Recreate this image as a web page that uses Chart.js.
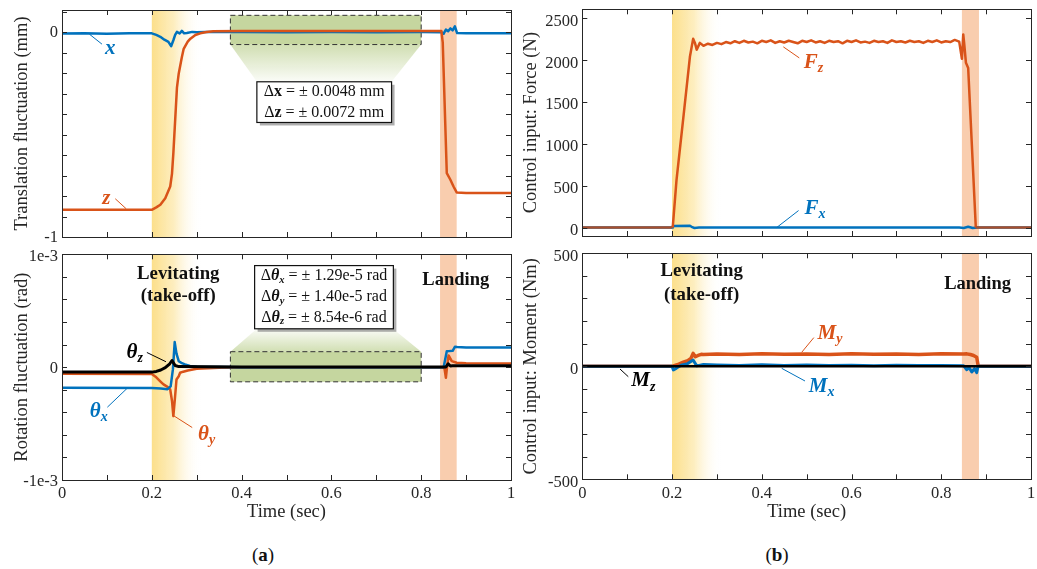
<!DOCTYPE html>
<html><head><meta charset="utf-8">
<script src="https://cdn.jsdelivr.net/npm/chart.js@4.4.1/dist/chart.umd.min.js"></script>
<style>
html,body{margin:0;padding:0;background:#fff;}
#wrap{position:relative;width:1037px;height:569px;overflow:hidden;font-family:"Liberation Serif",serif;background:#fff;}
canvas{position:absolute;}
.cap{position:absolute;font-size:19px;color:#111;transform:translate(-50%,-50%);white-space:nowrap;font-family:"Liberation Serif",serif;}
</style></head><body>
<div id="wrap">
<canvas id="cA1" width="520" height="245" style="left:0;top:0"></canvas>
<canvas id="cA2" width="520" height="290" style="left:0;top:245px"></canvas>
<canvas id="cB1" width="517" height="245" style="left:520px;top:0"></canvas>
<canvas id="cB2" width="517" height="290" style="left:520px;top:245px"></canvas>
<div class="cap" style="left:263px;top:555px">(<b>a</b>)</div>
<div class="cap" style="left:777px;top:555px">(<b>b</b>)</div>
</div>
<script>
// ---------------- DATA ----------------
// (a) top: translation fluctuation (mm)
const tTransX = [0,0.05,0.1,0.15,0.2,0.21,0.219,0.228,0.237,0.243,0.248,0.252,0.256,0.262,0.267,0.272,0.278,0.29,0.3,0.32,0.35,0.4,0.5,0.6,0.7,0.8,0.845,0.85,0.855,0.86,0.865,0.87,0.875,0.88,0.9,1.0];
const transX  = [-0.005,-0.004,-0.006,-0.004,-0.004,-0.012,-0.021,-0.035,-0.046,-0.067,-0.038,-0.012,0.003,-0.005,0.008,-0.004,-0.002,0.003,0.001,0.002,0.003,0.002,0.001,0.002,0.001,0.002,0.001,-0.006,0.014,0.006,0.02,0.01,0.03,-0.003,-0.004,-0.004];
const tTransZ = [0,0.1,0.2,0.21,0.219,0.23,0.241,0.245,0.248,0.252,0.256,0.26,0.267,0.271,0.28,0.286,0.297,0.308,0.322,0.337,0.4,0.6,0.8,0.845,0.848,0.857,0.865,0.872,0.879,0.9,1.0];
const transZ  = [-0.867,-0.867,-0.867,-0.855,-0.842,-0.81,-0.753,-0.69,-0.59,-0.43,-0.27,-0.2,-0.12,-0.08,-0.045,-0.03,-0.012,-0.004,0.002,0.006,0.007,0.007,0.007,0.007,-0.05,-0.688,-0.72,-0.753,-0.782,-0.785,-0.785];
// (a) bottom: rotation fluctuation (rad)
const tRotX = [0,0.2,0.22,0.235,0.242,0.247,0.251,0.255,0.26,0.267,0.274,0.285,0.3,0.4,0.6,0.8,0.85,0.857,0.862,0.87,0.875,0.88,0.9,1.0];
const rotX  = [-0.000183,-0.000185,-0.00019,-0.000195,-0.00017,-0.00002,0.000222,0.00012,0.000053,0.000035,0.000024,0.00001,0.000003,0,0,0,0,0.00014,0.000142,0.000145,0.00018,0.000178,0.000175,0.000175];
const tRotY = [0,0.2,0.21,0.22,0.226,0.235,0.241,0.245,0.248,0.251,0.255,0.26,0.263,0.27,0.28,0.3,0.35,0.4,0.6,0.8,0.848,0.852,0.855,0.858,0.861,0.868,0.879,0.9,1.0];
const rotY  = [-0.000059,-0.00006,-0.00009,-0.00013,-0.000153,-0.000175,-0.000198,-0.0003,-0.000434,-0.0003,-0.000109,-0.00008,-0.00005,-0.00004,-0.00003,-0.000015,-0.000005,0,0,0,0,-0.000014,-0.000094,0.00002,0.000104,0.000053,0.000039,0.000035,0.000033];
const tRotZ = [0,0.2,0.21,0.22,0.23,0.24,0.245,0.252,0.26,0.4,0.8,0.855,0.86,0.865,0.87,0.9,1.0];
const rotZ  = [-0.000044,-0.000044,-0.000038,-0.000025,-0.000005,0.00003,0.000059,0.000015,0.000005,0.000002,0.000002,0.000002,0.00003,0.00001,0.000012,0.000012,0.000012];
// (b) top: control force (N)
const tForceZ = [0,0.1,0.2,0.2015,0.21,0.225,0.24,0.247,0.251,0.255,0.262,0.27,0.28,0.29,0.30,0.31,0.32,0.33,0.34,0.35,0.36,0.37,0.38,0.39,0.40,0.41,0.42,0.43,0.44,0.45,0.46,0.47,0.48,0.49,0.50,0.51,0.52,0.53,0.54,0.55,0.56,0.57,0.58,0.59,0.60,0.61,0.62,0.63,0.64,0.65,0.66,0.67,0.68,0.69,0.70,0.71,0.72,0.73,0.74,0.75,0.76,0.77,0.78,0.79,0.80,0.81,0.82,0.83,0.84,0.846,0.849,0.851,0.855,0.86,0.877,0.88,1.0];
const forceZ  = [0,0,0,0,569,1300,2041,2248,2200,2120,2200,2165,2190,2175,2200,2185,2210,2195,2220,2200,2225,2205,2215,2195,2225,2210,2230,2200,2220,2205,2225,2210,2195,2225,2210,2230,2205,2220,2200,2225,2210,2220,2195,2225,2210,2230,2205,2215,2200,2225,2210,2220,2200,2230,2210,2220,2205,2225,2210,2220,2200,2225,2210,2230,2205,2220,2210,2235,2215,2010,2300,2200,1962,1900,0,0,0];
const tForceX = [0,0.2,0.202,0.24,0.245,0.25,0.26,0.5,0.84,0.85,0.86,0.87,0.88,1.0];
const forceX  = [0,0,20,22,5,-5,0,0,0,-5,10,-5,0,0];
// (b) bottom: control moment (Nm)
const tMomY = [0,0.2,0.203,0.215,0.225,0.235,0.242,0.247,0.252,0.258,0.265,0.27,0.3,0.35,0.4,0.45,0.5,0.55,0.6,0.65,0.7,0.75,0.8,0.85,0.857,0.865,0.872,0.879,0.882,0.885,1.0];
const momY  = [0,0,2,10,18,25,35,57,42,48,53,52,54,52,55,53,54,52,55,53,54,52,55,54,55,52,48,40,5,0,0];
const tMomX = [0,0.2,0.203,0.21,0.22,0.235,0.247,0.255,0.27,0.3,0.35,0.4,0.45,0.5,0.55,0.6,0.65,0.7,0.75,0.8,0.85,0.857,0.862,0.868,0.874,0.879,0.882,1.0];
const momX  = [0,0,-16,-8,5,12,28,2,8,6,3,7,4,6,3,5,2,5,3,4,2,-15,-5,-25,-10,-28,0,0];
const tMomZ = [0,0.25,0.5,0.75,1.0];
const momZ  = [0,0,0,0,0];
// ticks and tick labels
const timeTicks = [0,0.1,0.2,0.3,0.4,0.5,0.6,0.7,0.8,0.9,1];
const timeTickVals = [0,0.2,0.4,0.6,0.8,1];
const timeTickText = ['0','0.2','0.4','0.6','0.8','1'];
const transTicks = [-1,-0.9,-0.8,-0.7,-0.6,-0.5,-0.4,-0.3,-0.2,-0.1,0,0.1];
const transTickVals = [0,-1];           const transTickText = ['0','-1'];
const rotTicks = [-0.001,-0.0008,-0.0006,-0.0004,-0.0002,0,0.0002,0.0004,0.0006,0.0008,0.001];
const rotTickVals = [0.001,0,-0.001];   const rotTickText = ['1e-3','0','-1e-3'];
const forceTicks = [0,500,1000,1500,2000,2500];
const forceTickVals = [0,500,1000,1500,2000,2500]; const forceTickText = ['0','500','1000','1500','2000','2500'];
const momTicks = [-500,-400,-300,-200,-100,0,100,200,300,400,500];
const momTickVals = [500,0,-500];       const momTickText = ['500','0','-500'];

// ---------------- STYLE ----------------
const BLUE='#0072BD', ORANGE='#D95319', BLACK='#000000', AXIS='#262626', BROWN='#A8502E';
const SERIF='"Liberation Serif","Times New Roman",serif';
const TICK_FS=16.5, TITLE_FS=18.5;
const F=(s,w)=>(w?w+' ':'')+s+'px '+SERIF;
const pts=(t,v)=>t.map((x,i)=>({x:x,y:v[i]}));
const lineDs=(t,v,color,w,extra)=>Object.assign({data:pts(t,v),borderColor:color,borderWidth:w,pointRadius:0,tension:0,fill:false,borderJoinStyle:'round'},extra||{});

function labeler(vals,texts,range){return function(v){for(let i=0;i<vals.length;i++){if(Math.abs(vals[i]-v)<range*1e-6)return texts[i];}return '';};}

function drawRich(ctx,x,y,parts,align){
  let w=0;parts.forEach(p=>{ctx.font=p.font;p.w=ctx.measureText(p.t).width;w+=p.w;});
  let cx=align==='center'?x-w/2:(align==='right'?x-w:x);
  ctx.textBaseline='middle';ctx.textAlign='left';
  parts.forEach(p=>{ctx.font=p.font;ctx.fillStyle=p.color||'#111';ctx.fillText(p.t,cx,y+(p.dy||0));cx+=p.w;});
}

function makeDeco(d){
  return {id:'deco',
    beforeDatasetsDraw(chart){
      const ctx=chart.ctx,A=chart.chartArea,xs=chart.scales.x,ys=chart.scales.y;
      ctx.save();ctx.beginPath();ctx.rect(A.left,A.top,A.right-A.left,A.bottom-A.top);ctx.clip();
      const g0=xs.getPixelForValue(d.lev[0]),g1=xs.getPixelForValue(d.lev[1]);
      const gr=ctx.createLinearGradient(g0,0,g1,0);
      gr.addColorStop(0,'rgba(252,223,138,1)');gr.addColorStop(0.45,'rgba(253,236,185,0.9)');gr.addColorStop(1,'rgba(255,255,255,0)');
      ctx.fillStyle=gr;ctx.fillRect(g0,A.top,g1-g0,A.bottom-A.top);
      const l0=xs.getPixelForValue(d.land[0]),l1=xs.getPixelForValue(d.land[1]);
      ctx.fillStyle='#F9CDAE';ctx.fillRect(l0,A.top,l1-l0,A.bottom-A.top);
      if(d.zoomBox){
        const z=d.zoomBox;
        const bx0=xs.getPixelForValue(z.x0),bx1=xs.getPixelForValue(z.x1),by0=ys.getPixelForValue(z.y0),by1=ys.getPixelForValue(z.y1);
        const tx0=xs.getPixelForValue(z.tx0),tx1=xs.getPixelForValue(z.tx1),ty=ys.getPixelForValue(z.ty);
        const edgeY=z.up?Math.min(by0,by1):Math.max(by0,by1);
        const tg=ctx.createLinearGradient(0,edgeY,0,ty);
        tg.addColorStop(0,'rgba(197,214,159,0.8)');tg.addColorStop(1,'rgba(197,214,159,0.08)');
        ctx.fillStyle=tg;ctx.beginPath();ctx.moveTo(bx0,edgeY);ctx.lineTo(bx1,edgeY);ctx.lineTo(tx1,ty);ctx.lineTo(tx0,ty);ctx.closePath();ctx.fill();
        ctx.fillStyle='#C5D69F';ctx.fillRect(bx0,Math.min(by0,by1),bx1-bx0,Math.abs(by1-by0));
        ctx.setLineDash([5,3]);ctx.strokeStyle='#333';ctx.lineWidth=1;
        ctx.strokeRect(bx0,Math.min(by0,by1),bx1-bx0,Math.abs(by1-by0));ctx.setLineDash([]);
      }
      ctx.restore();
    },
    afterDatasetsDraw(chart){
      const ctx=chart.ctx,A=chart.chartArea,xs=chart.scales.x,ys=chart.scales.y;
      ctx.save();
      ctx.strokeStyle=AXIS;ctx.lineWidth=1;
      ctx.beginPath();
      xs.ticks.forEach(t=>{const p=Math.round(xs.getPixelForValue(t.value))+0.5;ctx.moveTo(p,A.bottom);ctx.lineTo(p,A.bottom-5);ctx.moveTo(p,A.top);ctx.lineTo(p,A.top+5);});
      ys.ticks.forEach(t=>{const p=Math.round(ys.getPixelForValue(t.value))+0.5;ctx.moveTo(A.left,p);ctx.lineTo(A.left+5,p);ctx.moveTo(A.right,p);ctx.lineTo(A.right-5,p);});
      ctx.stroke();
      ctx.strokeRect(Math.round(A.left)+0.5,Math.round(A.top)+0.5,Math.round(A.right-A.left),Math.round(A.bottom-A.top));
      if(d.box){
        const b=d.box;
        const x0=xs.getPixelForValue(b.x0),x1=xs.getPixelForValue(b.x1),y0=ys.getPixelForValue(b.y0),y1=ys.getPixelForValue(b.y1);
        const top=Math.min(y0,y1),h=Math.abs(y1-y0);
        ctx.fillStyle='rgba(120,120,120,0.6)';ctx.fillRect(x0+3,top+3,x1-x0,h);
        ctx.fillStyle='#fff';ctx.fillRect(x0,top,x1-x0,h);
        ctx.strokeStyle='#111';ctx.lineWidth=1.2;ctx.strokeRect(x0,top,x1-x0,h);
        b.lines.forEach(L=>drawRich(ctx,(x0+x1)/2,ys.getPixelForValue(L.y),L.parts,'center'));
      }
      (d.leaders||[]).forEach(L=>{ctx.strokeStyle=L.color;ctx.lineWidth=1;ctx.beginPath();ctx.moveTo(xs.getPixelForValue(L.x0),ys.getPixelForValue(L.y0));ctx.lineTo(xs.getPixelForValue(L.x1),ys.getPixelForValue(L.y1));ctx.stroke();});
      (d.texts||[]).forEach(T=>drawRich(ctx,xs.getPixelForValue(T.x),ys.getPixelForValue(T.y),T.parts,T.align||'center'));
      ctx.restore();
    }
  };
}

function makeChart(id,o){
  const showX=!!o.xTitle;
  return new Chart(document.getElementById(id),{
    type:'line',
    data:{datasets:o.datasets},
    options:{
      responsive:false,animation:false,devicePixelRatio:1,
      layout:{padding:{top:o.padTop,right:o.padRight,left:0,bottom:0}},
      plugins:{legend:{display:false},tooltip:{enabled:false}},
      scales:{
        x:{type:'linear',min:0,max:1,grid:{display:false,drawTicks:false},border:{display:false},
           ticks:{display:showX,autoSkip:false,maxRotation:0,padding:4,color:AXIS,font:{family:SERIF,size:TICK_FS},
                  callback:labeler(timeTickVals,timeTickText,1)},
           title:{display:showX,text:o.xTitle||'',color:AXIS,font:{family:SERIF,size:TITLE_FS},padding:{top:0,bottom:12}},
           afterBuildTicks(s){s.ticks=timeTicks.map(v=>({value:v}));},
           afterFit(s){s.height=o.xH;s.paddingLeft=0;s.paddingRight=0;}},
        y:{type:'linear',min:o.yMin,max:o.yMax,grid:{display:false,drawTicks:false},border:{display:false},
           ticks:{autoSkip:false,padding:4,labelOffset:o.yLabelOffset,color:AXIS,font:{family:SERIF,size:TICK_FS},
                  callback:labeler(o.yTickVals,o.yTickText,o.yMax-o.yMin)},
           title:{display:true,text:o.yTitle,color:AXIS,font:{family:SERIF,size:TITLE_FS},padding:{top:o.yTitlePad,bottom:0}},
           afterBuildTicks(s){s.ticks=o.yTicks.map(v=>({value:v}));},
           afterFit(s){s.width=o.yW;s.paddingTop=0;s.paddingBottom=0;}}
      }
    },
    plugins:[makeDeco(o.deco)]
  });
}

const BI=s=>F(s,'italic bold'), B=s=>F(s,'bold'), N=s=>F(s,'');

// (a) top
makeChart('cA1',{
  datasets:[lineDs(tTransZ,transZ,ORANGE,2.5),lineDs(tTransX,transX,BLUE,2.5)],
  padTop:10,padRight:9,xH:8,yW:62,yMin:-1,yMax:0.11,yTicks:transTicks,yTickVals:transTickVals,yTickText:transTickText,yLabelOffset:0.5,
  yTitle:'Translation fluctuation (mm)',yTitlePad:10.9,
  deco:{lev:[0.2,0.31],land:[0.842,0.879],
    zoomBox:{x0:0.375,x1:0.8,y0:0.084,y1:-0.059,tx0:0.434,tx1:0.734,ty:-0.241,up:false},
    box:{x0:0.434,x1:0.734,y0:-0.241,y1:-0.44,lines:[
      {y:-0.29,parts:[{t:'Δ',font:N(16)},{t:'x',font:B(16)},{t:' = ± 0.0048 mm',font:N(16)}]},
      {y:-0.395,parts:[{t:'Δ',font:N(16)},{t:'z',font:B(16)},{t:' = ± 0.0072 mm',font:N(16)}]}]},
    leaders:[{x0:0.061,y0:-0.008,x1:0.089,y1:-0.057,color:BLUE},{x0:0.1186,y0:-0.813,x1:0.143,y1:-0.862,color:ORANGE}],
    texts:[{x:0.1075,y:-0.078,parts:[{t:'x',font:BI(21),color:BLUE}]},
           {x:0.0986,y:-0.813,parts:[{t:'z',font:BI(21),color:ORANGE}]}]}
});

// (a) bottom
makeChart('cA2',{
  datasets:[lineDs(tRotZ,rotZ,BLACK,3),lineDs(tRotX,rotX,BLUE,2.5),lineDs(tRotY,rotY,ORANGE,2.5)],
  padTop:9.3,padRight:9,xH:55,xTitle:'Time (sec)',yW:62,yMin:-0.001,yMax:0.001,yTicks:rotTicks,yTickVals:rotTickVals,yTickText:rotTickText,yLabelOffset:2,
  yTitle:'Rotation fluctuation (rad)',yTitlePad:10.9,
  deco:{lev:[0.2,0.31],land:[0.842,0.879],
    zoomBox:{x0:0.375,x1:0.8,y0:0.000137,y1:-0.00013,tx0:0.434,tx1:0.737,ty:0.00034,up:true},
    box:{x0:0.429,x1:0.738,y0:0.00090,y1:0.00034,lines:[
      {y:0.000807,parts:[{t:'Δ',font:N(16)},{t:'θ',font:BI(16)},{t:'x',font:BI(10.5),dy:4},{t:' = ± 1.29e-5 rad',font:N(16)}]},
      {y:0.000621,parts:[{t:'Δ',font:N(16)},{t:'θ',font:BI(16)},{t:'y',font:BI(10.5),dy:4},{t:' = ± 1.40e-5 rad',font:N(16)}]},
      {y:0.000438,parts:[{t:'Δ',font:N(16)},{t:'θ',font:BI(16)},{t:'z',font:BI(10.5),dy:4},{t:' = ± 8.54e-6 rad',font:N(16)}]}]},
    leaders:[{x0:0.189,y0:0.00013,x1:0.2315,y1:0.000048,color:BLACK},
             {x0:0.101,y0:-0.000355,x1:0.1447,y1:-0.000189,color:BLUE},
             {x0:0.29,y0:-0.000535,x1:0.247,y1:-0.000426,color:ORANGE}],
    texts:[{x:0.162,y:0.000128,parts:[{t:'θ',font:BI(21),color:BLACK},{t:'z',font:BI(14),color:BLACK,dy:6}]},
           {x:0.082,y:-0.00039,parts:[{t:'θ',font:BI(21),color:BLUE},{t:'x',font:BI(14),color:BLUE,dy:6}]},
           {x:0.322,y:-0.000597,parts:[{t:'θ',font:BI(21),color:ORANGE},{t:'y',font:BI(14),color:ORANGE,dy:6}]},
           {x:0.259,y:0.000822,parts:[{t:'Levitating',font:B(18.8)}]},
           {x:0.259,y:0.000627,parts:[{t:'(take-off)',font:B(18.8)}]},
           {x:0.877,y:0.000769,parts:[{t:'Landing',font:B(18.5)}]}]}
});

// (b) top
makeChart('cB1',{
  datasets:[lineDs(tForceZ,forceZ,ORANGE,2.5,{segment:{borderColor:c=>(c.p0.parsed.y===0&&c.p1.parsed.y===0)?BROWN:undefined}}),lineDs(tForceX,forceX,BLUE,2.5)],
  padTop:9.3,padRight:6,xH:9,yW:62.3,yMin:-100,yMax:2600,yTicks:forceTicks,yTickVals:forceTickVals,yTickText:forceTickText,yLabelOffset:3.5,
  yTitle:'Control input: Force (N)',yTitlePad:0,
  deco:{lev:[0.2,0.31],land:[0.846,0.884],
    leaders:[{x0:0.4836,y0:2021,x1:0.448,y1:2153,color:ORANGE},{x0:0.482,y0:203,x1:0.433,y1:0,color:BLUE}],
    texts:[{x:0.515,y:1962,parts:[{t:'F',font:BI(21),color:ORANGE},{t:'z',font:BI(14),color:ORANGE,dy:6}]},
           {x:0.5186,y:231,parts:[{t:'F',font:BI(21),color:BLUE},{t:'x',font:BI(14),color:BLUE,dy:6}]}]}
});

// (b) bottom
makeChart('cB2',{
  datasets:[lineDs(tMomZ,momZ,BLACK,2.5),lineDs(tMomX,momX,BLUE,3),lineDs(tMomY,momY,ORANGE,3.5)],
  padTop:8.3,padRight:6,xH:55.7,xTitle:'Time (sec)',yW:62.3,yMin:-500,yMax:500,yTicks:momTicks,yTickVals:momTickVals,yTickText:momTickText,yLabelOffset:3.5,
  yTitle:'Control input: Moment (Nm)',yTitlePad:0,
  deco:{lev:[0.2,0.31],land:[0.846,0.884],
    leaders:[{x0:0.516,y0:127,x1:0.489,y1:62,color:ORANGE},{x0:0.4963,y0:-65,x1:0.4444,y1:-9,color:BLUE},{x0:0.1025,y0:-46,x1:0.084,y1:-12,color:BLACK}],
    texts:[{x:0.552,y:146,parts:[{t:'M',font:BI(21),color:ORANGE},{t:'y',font:BI(14),color:ORANGE,dy:6}]},
           {x:0.5335,y:-90,parts:[{t:'M',font:BI(21),color:BLUE},{t:'x',font:BI(14),color:BLUE,dy:6}]},
           {x:0.136,y:-65,parts:[{t:'M',font:BI(21),color:BLACK},{t:'z',font:BI(14),color:BLACK,dy:6}]},
           {x:0.266,y:419,parts:[{t:'Levitating',font:B(18.8)}]},
           {x:0.266,y:315,parts:[{t:'(take-off)',font:B(18.8)}]},
           {x:0.881,y:364,parts:[{t:'Landing',font:B(18.5)}]}]}
});
</script>
</body></html>
